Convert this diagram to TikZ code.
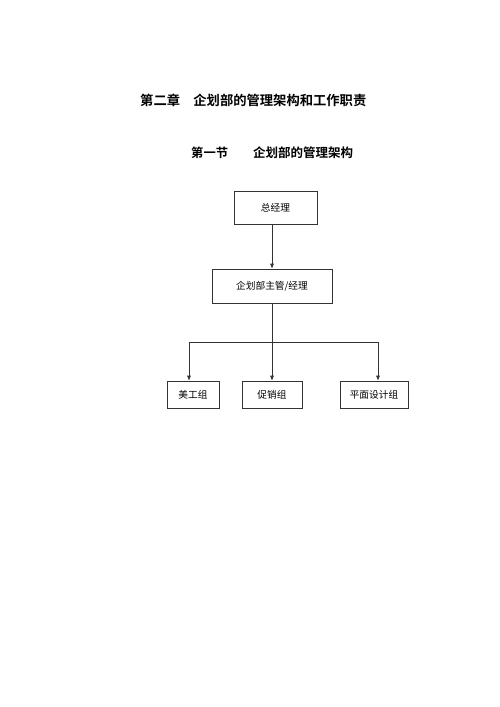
\documentclass[tikz,border=0pt]{standalone}
\usepackage{fontspec}
\newfontfamily\cjk{Noto Sans CJK SC}
\newfontfamily\cjkb{Noto Sans CJK SC Bold}
\usetikzlibrary{arrows.meta}
\tikzset{
  box/.style={draw=black!80, line width=0.6pt, inner sep=0pt, font=\cjk\fontsize{9.7}{11}\selectfont},
  head/.style={inner sep=0pt, anchor=west},
  conn/.style={draw=black!80, line width=0.6pt},
  arr/.style={conn, -{Latex[length=5pt,width=4pt]}}
}
\begin{document}
\begin{tikzpicture}[x=1pt,y=-1pt]
\useasboundingbox (0,0) rectangle (500,707);
\node[head, font=\cjkb\fontsize{13.3}{15}\selectfont] (title) at (140,100) {第二章\hspace{13.3pt}企划部的管理架构和工作职责};
\node[head, font=\cjkb\fontsize{12.3}{14}\selectfont] (sec) at (191,153) {第一节};
\node[head, font=\cjkb\fontsize{12.5}{14}\selectfont] (sect) at (253,153) {企划部的管理架构};
\node[box, minimum width=83pt, minimum height=33pt] (gm) at (275.5,207.5) {总经理};
\node[box, minimum width=120pt, minimum height=34pt] (mgr) at (272,286) {企划部主管/经理};
\node[box, minimum width=52pt, minimum height=27pt] (a) at (193,394.5) {美工组};
\node[box, minimum width=60pt, minimum height=27pt] (b) at (272,394.5) {促销组};
\node[box, minimum width=68pt, minimum height=27pt] (c) at (374,394.5) {平面设计组};
\coordinate (split) at (272,342);
\coordinate (la) at (189,342);
\coordinate (lc) at (378,342);
\draw[arr] (gm.south -| mgr.north) -- (mgr.north);
\draw[conn] (mgr.south) -- (split);
\draw[conn] (la) -- (lc);
\draw[arr] (la) -- (la |- a.north);
\draw[arr] (split) -- (b.north);
\draw[arr] (lc) -- (lc |- c.north);
\end{tikzpicture}
\end{document}
